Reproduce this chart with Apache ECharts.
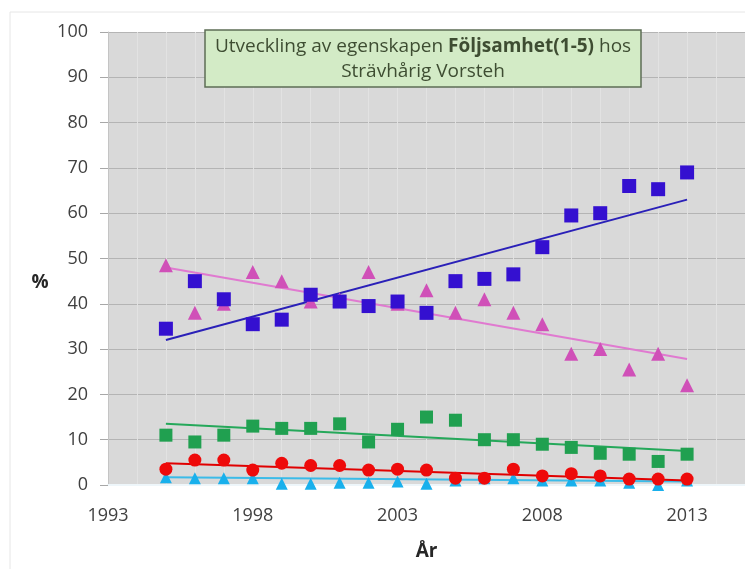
<!DOCTYPE html>
<html>
<head>
<meta charset="utf-8">
<script src="https://cdn.jsdelivr.net/npm/echarts@6/dist/echarts.min.js"></script>
<style>html,body{margin:0;padding:0;background:#fff;}#c{width:745px;height:569px;}</style>
</head>
<body>
<div id="c"></div>
<script>
var years = [1995,1996,1997,1998,1999,2000,2001,2002,2003,2004,2005,2006,2007,2008,2009,2010,2011,2012,2013];
var grade5 = [34.5,45,41,35.5,36.5,42,40.5,39.5,40.5,38,45,45.5,46.5,52.5,59.5,60,66,65.3,69];
var grade4 = [48.5,38,40,47,45,40.5,41,47,40,43,38,41,38,35.5,29,30,25.5,29,22];
var grade3 = [11,9.5,11,13,12.5,12.5,13.5,9.5,12.3,15,14.3,10,10,9,8.3,7,6.8,5.2,6.8];
var grade2 = [3.5,5.5,5.5,3.3,4.8,4.3,4.3,3.3,3.5,3.3,1.5,1.5,3.5,2,2.5,2,1.3,1.3,1.3];
var grade1 = [1.7,1.5,1.5,1.5,0.3,0.3,0.5,0.5,0.8,0.3,1,1.5,1.5,1,1,1,0.5,0,1];
// trend line end values: [value at 1995, value at 2013]
var trend5 = [32, 63];
var trend4 = [48, 27.8];
var trend3 = [13.5, 7.5];
var trend2 = [4.8, 1];
var trend1 = [1.7, 0.8];
var yTicks = [0,10,20,30,40,50,60,70,80,90,100];
var xStart = 1993, xEnd = 2015;

function pts(arr){ return years.map(function(y,i){ return [y - xStart, arr[i]]; }); }
function tline(t){ return [[years[0]-xStart, t[0]], [years[years.length-1]-xStart, t[1]]]; }

var chart = echarts.init(document.getElementById('c'));
var F = 'Open Sans';
function sc(name, data, sym, color, size){
  return {name:name, type:'scatter', data:pts(data), symbol:sym, symbolSize:size, itemStyle:{color:color, opacity:1}, z:3};
}
function ln(name, t, color){
  return {name:name, type:'line', data:tline(t), symbol:'none', lineStyle:{color:color, width:2}, z:2, silent:true};
}
chart.setOption({
  backgroundColor:'#fff',
  animation:false,
  grid:{left:108, right:0, top:32, bottom:84, show:true, backgroundColor:'#d9d9d9', borderWidth:0},
  xAxis:{
    type:'value', min:0, max:xEnd-xStart, interval:5,
    name:'År', nameLocation:'middle', nameGap:57,
    nameTextStyle:{fontFamily:F, fontSize:19, fontWeight:'bold', color:'#262626'},
    axisLine:{show:true, lineStyle:{color:'#eef6fa', width:2}},
    axisTick:{show:false},
    axisLabel:{fontFamily:F, fontSize:18, color:'#404040', margin:22, showMaxLabel:false,
      formatter:function(v){ return String(v + xStart); }},
    splitLine:{show:true, lineStyle:{color:'#e2e2e2', width:1}},
    minorTick:{show:false, splitNumber:5},
    minorSplitLine:{show:true, lineStyle:{color:'#e2e2e2', width:1}}
  },
  yAxis:{
    type:'value', min:0, max:100, interval:10,
    axisLine:{show:true, lineStyle:{color:'#c4c4c4', width:1}},
    axisTick:{show:true, length:8, lineStyle:{color:'#a8a8a8'}},
    axisLabel:{fontFamily:F, fontSize:18, color:'#404040', margin:20,
      formatter:function(v){ return yTicks.indexOf(v) >= 0 ? String(v) : ''; }},
    splitLine:{show:true, lineStyle:{color:'#b4b4b4', width:1}}
  },
  series:[
    ln('t4', trend4, '#e07ad0'),
    ln('t5', trend5, '#2a20b8'),
    ln('t3', trend3, '#25a85a'),
    ln('t1', trend1, '#3bbbe8'),
    ln('t2', trend2, '#e00000'),
    sc('4', grade4, 'triangle', '#d050b8', 14),
    sc('5', grade5, 'rect', '#3410d0', 14),
    sc('3', grade3, 'rect', '#20a050', 13),
    sc('1', grade1, 'triangle', '#18b0ec', 12),
    sc('2', grade2, 'circle', '#ee0a0a', 13)
  ],
  graphic:[
    {type:'rect', shape:{x:10, y:12, width:740, height:560}, style:{fill:'none', stroke:'#e6e6e6', lineWidth:1}, z:-1, silent:true},
    {type:'text', x:40, y:283, z:11, style:{text:'%', fontFamily:F, fontSize:19, fontWeight:'bold', fill:'#262626', textAlign:'center', textVerticalAlign:'middle'}},
    {type:'rect', shape:{x:205, y:30, width:436, height:57}, style:{fill:'#d3ebc6', stroke:'#5d6e55', lineWidth:1.5}, z:10},
    {type:'text', x:423, y:59, z:11, style:{
      text:'Utveckling av egenskapen {b|Följsamhet(1-5)} hos\nSträvhårig Vorsteh',
      fontFamily:F, fontSize:19, fill:'#3e4d32', textAlign:'center', textVerticalAlign:'middle', lineHeight:25,
      rich:{b:{fontFamily:F, fontSize:19, fontWeight:'bold', fill:'#3e4d32', lineHeight:25}}
    }}
  ]
});
</script>
</body>
</html>
